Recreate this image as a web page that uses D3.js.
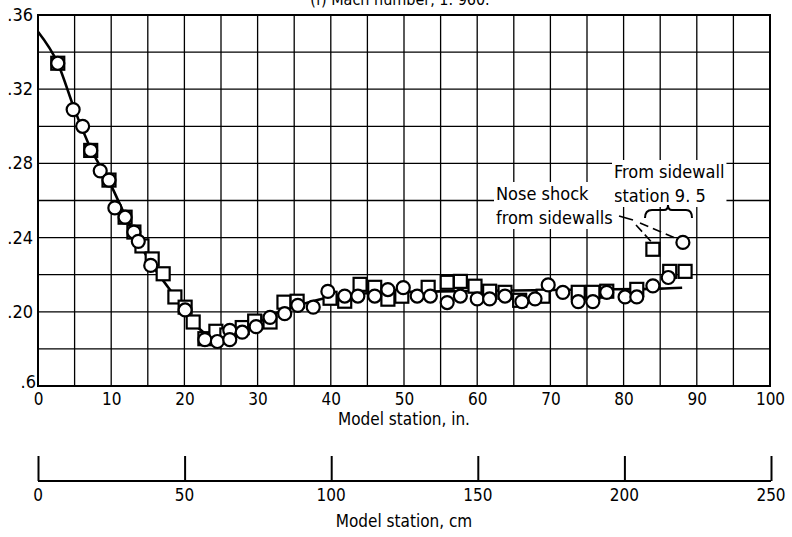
<!DOCTYPE html>
<html>
<head>
<meta charset="utf-8">
<script src="https://cdn.jsdelivr.net/npm/d3@7"></script>
<style>
  html, body { margin: 0; padding: 0; background: #fff; }
  svg { display: block; }
  text { font-family: "DejaVu Sans Condensed", "DejaVu Sans", sans-serif; font-stretch: condensed; fill: #000; }
</style>
</head>
<body>
<svg id="chart" width="792" height="537"></svg>
<script>
// ---------------- data ----------------
const xTickValues = [0, 10, 20, 30, 40, 50, 60, 70, 80, 90, 100];
const yTickValues = [0.16, 0.20, 0.24, 0.28, 0.32, 0.36];
const yTickLabels = [".6", ".20", ".24", ".28", ".32", ".36"];
const cmTickValues = [0, 50, 100, 150, 200, 250];

// circles: [model station (in.), value]
const circleX = [2.7, 4.8, 6.1, 7.2, 8.5, 9.7, 10.5, 11.9, 13.1, 13.7, 15.4, 20.1,
  22.8, 24.5, 26.2, 26.2, 27.9, 29.8, 31.7, 33.7, 35.5, 37.6, 39.6, 41.9, 43.7, 46.0,
  47.8, 49.9, 51.8, 53.6, 55.9, 57.7, 60.0, 61.7, 63.8, 66.1, 67.9, 69.7, 71.7, 73.8,
  75.8, 77.7, 80.2, 81.8, 84.0, 86.1];
const circleY = [0.334, 0.309, 0.300, 0.287, 0.276, 0.271, 0.256, 0.251, 0.243, 0.238, 0.225, 0.201,
  0.185, 0.184, 0.190, 0.185, 0.189, 0.192, 0.197, 0.199, 0.2035, 0.2025, 0.211, 0.2085, 0.2085, 0.2085,
  0.212, 0.213, 0.2085, 0.2085, 0.205, 0.2085, 0.207, 0.207, 0.2085, 0.2055, 0.207, 0.2145, 0.2105, 0.2055,
  0.2055, 0.2105, 0.208, 0.208, 0.214, 0.2185];

// squares
const squareX = [2.7, 7.2, 9.7, 11.9, 13.1, 14.2, 15.6, 17.1, 18.7, 20.1, 21.2, 22.8,
  24.3, 25.8, 27.9, 29.6, 31.7, 33.6, 35.4, 39.9, 41.9, 44.0, 46.0, 47.8, 49.7, 53.3,
  55.9, 57.7, 59.7, 61.7, 63.8, 65.8, 69.0, 73.8, 75.8, 77.7, 81.8, 86.3, 88.4];
const squareY = [0.334, 0.287, 0.271, 0.251, 0.243, 0.2355, 0.2285, 0.2205, 0.208, 0.2025, 0.1945, 0.1855,
  0.1895, 0.1875, 0.1915, 0.195, 0.1945, 0.2052, 0.2057, 0.2073, 0.2057, 0.2148, 0.2132, 0.2068, 0.2084, 0.2132,
  0.2159, 0.2164, 0.2138, 0.2111, 0.2105, 0.2062, 0.2084, 0.2105, 0.2105, 0.2111, 0.2121, 0.2218, 0.2218];

// nose shock from sidewalls (isolated points)
const shockCircle = [88.1, 0.2374];
const shockSquare = [84.0, 0.2337];

// faired curve
const curveX = [0, 2.7, 5, 7.2, 10, 12, 15, 18, 20, 22, 24, 26, 28, 30, 33, 36, 40, 45, 55, 65, 75, 85, 88];
const curveY = [0.351, 0.334, 0.309, 0.288, 0.268, 0.251, 0.229, 0.212, 0.202, 0.191, 0.1865, 0.186,
  0.189, 0.194, 0.200, 0.204, 0.208, 0.210, 0.211, 0.2115, 0.212, 0.2125, 0.213];

// ---------------- drawing ----------------
const svg = d3.select("#chart");
const x = d3.scaleLinear().domain([0, 100]).range([38, 770]);
const y = d3.scaleLinear().domain([0.16, 0.36]).range([386, 15]);
const xcm = d3.scaleLinear().domain([0, 250]).range([38, 771]);

// title (cut off at top in the original scan)
svg.append("text").attr("x", 400).attr("y", 5).attr("text-anchor", "middle")
  .attr("font-size", 16).text("(f) Mach number, 1. 960.");

// grid
const g = svg.append("g");
g.selectAll("line.v").data(d3.range(0, 101, 5)).enter().append("line")
  .attr("x1", d => x(d)).attr("x2", d => x(d)).attr("y1", y(0.36)).attr("y2", y(0.16))
  .attr("stroke", "#000").attr("stroke-width", 1.3);
g.selectAll("line.h").data(d3.range(0, 11).map(i => 0.16 + i * 0.02)).enter().append("line")
  .attr("x1", x(0)).attr("x2", x(100)).attr("y1", d => y(d)).attr("y2", d => y(d))
  .attr("stroke", "#000").attr("stroke-width", 1.3);
g.append("rect").attr("x", x(0)).attr("y", y(0.36)).attr("width", x(100) - x(0)).attr("height", y(0.16) - y(0.36))
  .attr("fill", "none").attr("stroke", "#000").attr("stroke-width", 2);

// y labels
svg.selectAll("text.ylab").data(yTickValues).enter().append("text")
  .attr("x", (d, i) => i === 0 ? 36 : 33).attr("y", (d, i) => y(d) + (i === 0 ? 2 : 6))
  .attr("text-anchor", "end").attr("font-size", 18)
  .text((d, i) => yTickLabels[i]);

// x axis (inches) labels
const xAxis = d3.axisBottom(x).tickValues(xTickValues).tickSize(0).tickPadding(7).tickFormat(d3.format("d"));
const xa = svg.append("g").attr("transform", `translate(0,${y(0.16)})`).call(xAxis);
xa.select(".domain").remove();
xa.selectAll("text").attr("font-size", 17).attr("font-family", null).attr("fill", "#000");
svg.append("text").attr("x", 404).attr("y", 425).attr("text-anchor", "middle").attr("font-size", 17)
  .text("Model station, in.");

// cm axis
const cmAxis = d3.axisTop(xcm).tickValues(cmTickValues).tickSize(25).tickFormat("");
const ca = svg.append("g").attr("transform", "translate(0,481)").call(cmAxis);
ca.select(".domain").attr("d", `M${xcm(0)},0H${xcm(250)}`).attr("stroke-width", 2);
ca.selectAll("line").attr("stroke-width", 2);
svg.selectAll("text.cml").data(cmTickValues).enter().append("text")
  .attr("x", d => xcm(d)).attr("y", 501).attr("text-anchor", "middle").attr("font-size", 17)
  .text(d => d);
svg.append("text").attr("x", 404).attr("y", 527).attr("text-anchor", "middle").attr("font-size", 17)
  .text("Model station, cm");

// curve
const line = d3.line().x(d => x(d[0])).y(d => y(d[1])).curve(d3.curveMonotoneX);
svg.append("path").datum(curveX.map((v, i) => [v, curveY[i]]))
  .attr("d", line).attr("fill", "none").attr("stroke", "#000").attr("stroke-width", 2.6);

// markers
const sq = 13;
const squares = squareX.map((v, i) => [v, squareY[i]]).concat([shockSquare]);
const circles = circleX.map((v, i) => [v, circleY[i]]).concat([shockCircle]);
svg.selectAll("rect.sq").data(squares).enter().append("rect")
  .attr("x", d => x(d[0]) - sq / 2).attr("y", d => y(d[1]) - sq / 2)
  .attr("width", sq).attr("height", sq)
  .attr("fill", "#fff").attr("stroke", "#000").attr("stroke-width", 2.2);
svg.selectAll("circle.c").data(circles).enter().append("circle")
  .attr("cx", d => x(d[0])).attr("cy", d => y(d[1])).attr("r", 6.5)
  .attr("fill", "#fff").attr("stroke", "#000").attr("stroke-width", 2.2);

// annotations
function label(lines, x0, y0, dy) {
  const grp = svg.append("g");
  const t = grp.append("text").attr("font-size", 18);
  lines.forEach((s, i) => t.append("tspan").attr("x", x0).attr("y", y0 + i * dy).text(s));
  const b = t.node().getBBox();
  grp.insert("rect", "text").attr("x", b.x - 2).attr("y", b.y - 1).attr("width", b.width + 4).attr("height", b.height + 2)
    .attr("fill", "#fff");
}
label(["From sidewall", "station 9. 5"], 614, 178, 24);
label(["Nose shock", "from sidewalls"], 496, 200, 24);

// leader lines
const ann = svg.append("g").attr("stroke", "#000").attr("fill", "none").attr("stroke-width", 1.6);
ann.append("path").attr("d", "M619,216 L633,220");
ann.append("path").attr("d", `M636,225 L${x(shockSquare[0]) - 2},${y(shockSquare[1]) - 8}`).attr("stroke-dasharray", "9,4");
ann.append("path").attr("d", `M640,223 L${x(shockCircle[0]) - 7},${y(shockCircle[1]) - 4}`).attr("stroke-dasharray", "9,5");
// brace
ann.append("path").attr("d", "M645,218 Q645,210 652,210 L664,210 Q668,210 668,205 Q668,210 672,210 L686,210 Q692,210 692,218")
  .attr("stroke-width", 2);
</script>
</body>
</html>
